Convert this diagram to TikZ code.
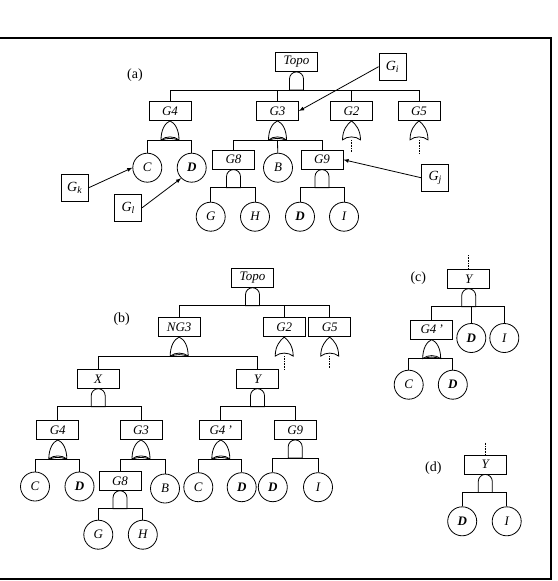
\documentclass[tikz,border=0pt]{standalone}
\usepackage{fontspec}
\setmainfont{Liberation Serif}
\usetikzlibrary{positioning}

\tikzset{
  gatebox/.style={draw, minimum width=42pt, minimum height=19pt, inner sep=0pt,
    font=\fontsize{13}{13}\selectfont\itshape},
  event/.style={draw, circle, minimum size=29pt, inner sep=0pt,
    font=\fontsize{13}{13}\selectfont\itshape},
  refbox/.style={draw, minimum size=27pt, inner sep=0pt,
    font=\fontsize{14}{14}\selectfont\itshape},
  tag/.style={font=\fontsize{14}{14}\selectfont},
  tail/.style={densely dotted, line width=0.6pt},
  andg/.pic={
    \draw (-7,-18) -- (-7,-7) arc[start angle=180, end angle=0, radius=7pt] -- (7,-18) -- cycle;
    \coordinate (-out) at (0,-18);
  },
  org/.pic={
    \draw (0,0) .. controls (4,-3) and (9,-9) .. (9,-19)
      .. controls (4,-15) and (-4,-15) .. (-9,-19)
      .. controls (-9,-9) and (-4,-3) .. (0,0);
    \coordinate (-out) at (0,-19);
  },
  porg/.pic={
    \draw (0,0) .. controls (5,-2) and (9,-9) .. (9,-19)
      .. controls (4,-15) and (-4,-15) .. (-9,-19)
      .. controls (-9,-9) and (-5,-2) .. (0,0);
    \draw (-8,-19) .. controls (-3,-17) and (3,-17) .. (8,-19);
    \coordinate (-out) at (0,-19);
  },
}

\begin{document}
\begin{tikzpicture}[x=1pt, y=1pt, line width=0.8pt]
  \clip (0,0) rectangle (557,-581);
  \draw[line width=1.2pt] (-5,-38) rectangle (551,-579);

  % (a)
  \node[tag] at (135,-75) {(a)};
  \node[gatebox] (topa) at (296.5,-62) {Topo};
  \pic (topag) at (topa.south) {andg};
  \node[gatebox] (g4a) at (170,-111) {G4};
  \node[gatebox] (g3a) at (277.5,-111) {G3};
  \node[gatebox] (g2a) at (351.5,-111) {G2};
  \node[gatebox] (g5a) at (419,-111) {G5};
  \draw (g4a) |- (topag-out) -| (g5a);
  \draw (g3a) -- (g3a |- topag-out);
  \draw (g2a) -- (g2a |- topag-out);
  \pic (g4ag) at (g4a.south) {porg};
  \pic (g3ag) at (g3a.south) {porg};
  \pic (g2ag) at (g2a.south) {org};
  \pic (g5ag) at (g5a.south) {org};
  \coordinate (g2aend) at (351.5,-152);
  \coordinate (g5aend) at (419,-153);
  \draw[tail] (g2ag-out) -- (g2aend);
  \draw[tail] (g5ag-out) -- (g5aend);

  \node[event] (ca) at (147.3,-167.7) {C};
  \node[event] (da) at (191.7,-167.7) {\bfseries D};
  \draw (ca) |- (g4ag-out) -| (da);

  \node[gatebox] (g8a) at (233.5,-159.7) {G8};
  \node[event] (ba) at (278,-167.7) {B};
  \node[gatebox] (g9a) at (322,-159.7) {G9};
  \draw (g8a) |- (g3ag-out) -| (g9a);
  \draw (g3ag-out) -- (ba);
  \pic (g8ag) at (g8a.south) {andg};
  \pic (g9ag) at (g9a.south) {andg};
  \node[event] (ga) at (210.7,-216.7) {G};
  \node[event] (ha) at (255,-216.7) {H};
  \node[event] (d2a) at (300,-216.7) {\bfseries D};
  \node[event] (ia) at (344,-216.7) {I};
  \draw (ga) |- (g8ag-out) -| (ha);
  \draw (d2a) |- (g9ag-out) -| (ia);

  \node[refbox] (gk) at (74.7,-187.8) {G\textsubscript{k}};
  \node[refbox] (gl) at (128.3,-207.7) {G\textsubscript{l}};
  \node[refbox] (gi) at (392.5,-66.7) {G\textsubscript{i}};
  \node[refbox] (gj) at (435.3,-177.8) {G\textsubscript{j}};
  \draw[-latex] (gk.east) -- (ca.west);
  \draw[-latex] (gl.east) -- (da.south west);
  \draw[-latex] (gi.west) -- (g3a.east);
  \draw[-latex] (gj.west) -- (g9a.east);

  % (b)
  \node[tag] at (121.7,-319.3) {(b)};
  \node[gatebox] (topb) at (252.5,-277.8) {Topo};
  \pic (topbg) at (topb.south) {andg};
  \node[gatebox] (ng3b) at (179.2,-327.2) {NG3};
  \node[gatebox] (g2b) at (284.2,-327.2) {G2};
  \node[gatebox] (g5b) at (329.7,-327.2) {G5};
  \draw (ng3b) |- (topbg-out) -| (g5b);
  \draw (g2b) -- (g2b |- topbg-out);
  \pic (ng3bg) at (ng3b.south) {porg};
  \pic (g2bg) at (g2b.south) {org};
  \pic (g5bg) at (g5b.south) {org};
  \coordinate (g2bend) at (284.2,-370);
  \coordinate (g5bend) at (329.7,-368);
  \draw[tail] (g2bg-out) -- (g2bend);
  \draw[tail] (g5bg-out) -- (g5bend);

  \node[gatebox] (xb) at (98.2,-378.8) {X};
  \node[gatebox] (yb) at (257.5,-378.8) {Y};
  \draw (xb) |- (ng3bg-out) -| (yb);
  \pic (xbg) at (xb.south) {andg};
  \pic (ybg) at (yb.south) {andg};

  \node[gatebox] (g4b) at (57.8,-430) {G4};
  \node[gatebox] (g3b) at (141,-430) {G3};
  \draw (g4b) |- (xbg-out) -| (g3b);
  \pic (g4bg) at (g4b.south) {porg};
  \pic (g3bg) at (g3b.south) {porg};
  \node[event] (cb) at (35,-486.5) {C};
  \node[event] (db) at (79.5,-486.5) {\bfseries D};
  \draw (cb) |- (g4bg-out) -| (db);
  \node[gatebox] (g8b) at (120,-480.8) {G8};
  \node[event] (bb) at (165,-488.5) {B};
  \draw (g8b) |- (g3bg-out) -| (bb);
  \pic (g8bg) at (g8b.south) {andg};
  \node[event] (gb) at (98.3,-534.7) {G};
  \node[event] (hb) at (142.8,-534.7) {H};
  \draw (gb) |- (g8bg-out) -| (hb);

  \node[gatebox] (g4pb) at (220.8,-430) {G4\,'};
  \node[gatebox] (g9b) at (295.2,-430) {G9};
  \draw (g4pb) |- (ybg-out) -| (g9b);
  \pic (g4pbg) at (g4pb.south) {porg};
  \pic (g9bg) at (g9b.south) {andg};
  \node[event] (c2b) at (198.3,-487.2) {C};
  \node[event] (d2b) at (241.7,-487.2) {\bfseries D};
  \node[event] (d3b) at (272.8,-487.2) {\bfseries D};
  \node[event] (ib) at (318,-487.2) {I};
  \draw (c2b) |- (g4pbg-out) -| (d2b);
  \draw (d3b) |- (g9bg-out) -| (ib);

  % (c)
  \node[tag] at (418.3,-278.3) {(c)};
  \node[gatebox] (yc) at (468.7,-278.8) {Y};
  \coordinate (ycin) at (468.7,-255);
  \draw[tail] (ycin) -- (yc);
  \pic (ycg) at (yc.south) {andg};
  \node[gatebox] (g4pc) at (431.7,-329.7) {G4\,'};
  \node[event] (dc) at (471.3,-338) {\bfseries D};
  \node[event] (ic) at (504.3,-338) {I};
  \draw (g4pc) |- (ycg-out) -| (ic);
  \draw (dc) -- (dc |- ycg-out);
  \pic (g4pcg) at (g4pc.south) {porg};
  \node[event] (cc) at (408.7,-384.7) {C};
  \node[event] (d2c) at (452.8,-384.7) {\bfseries D};
  \draw (cc) |- (g4pcg-out) -| (d2c);

  % (d)
  \node[tag] at (433.3,-468.3) {(d)};
  \node[gatebox] (yd) at (485.3,-464.5) {Y};
  \coordinate (ydin) at (485.3,-442.7);
  \draw[tail] (ydin) -- (yd);
  \pic (ydg) at (yd.south) {andg};
  \node[event] (dd) at (462.2,-521.3) {\bfseries D};
  \node[event] (id) at (506.7,-521.3) {I};
  \draw (dd) |- (ydg-out) -| (id);
\end{tikzpicture}
\end{document}
